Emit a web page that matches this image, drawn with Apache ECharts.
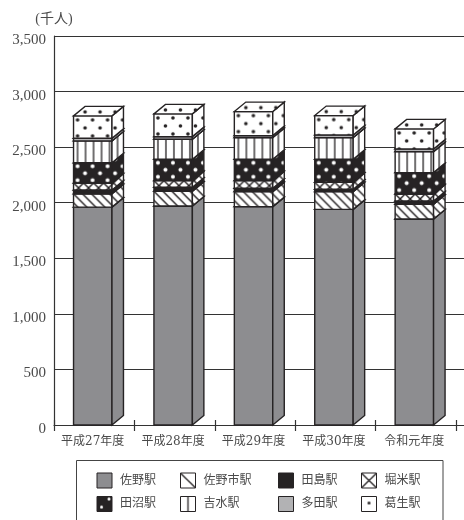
<!DOCTYPE html>
<html><head><meta charset="utf-8">
<style>html,body{margin:0;padding:0;background:#fff}#c{width:464px;height:520px}</style>
<script src="https://cdn.jsdelivr.net/npm/echarts@6/dist/echarts.min.js"></script>
</head><body><div id="c"></div>
<script>
const categories = ['平成27年度','平成28年度','平成29年度','平成30年度','令和元年度'];
const yTicks = [0,500,1000,1500,2000,2500,3000,3500];
const sano     = [1960,1971,1965,1940,1854];
const sanoshi  = [120,132,135,160,132];
const tajima   = [35,36,30,21,30];
const horigome = [63,60,69,63,63];
const tanuma   = [182,192,192,207,192];
const yoshimizu= [196,180,195,195,189];
const tada     = [24,24,18,24,24];
const kuzuu    = [201,204,216,174,180];

const INK='#262324', G1='#8d8d90', G2='#b2b2b4', TXT='#4a4a4a';
const FONT="'Liberation Serif','Noto Sans CJK JP',serif";
const FONT2="'DejaVu Serif','Noto Sans CJK JP',serif";
function tile(w,h,bg,draw){
  const c=document.createElement('canvas');c.width=w;c.height=h;
  const x=c.getContext('2d');x.fillStyle=bg;x.fillRect(0,0,w,h);draw(x,w,h);return c;
}
function line(x,a,b,c,d,lw){x.strokeStyle=INK;x.lineWidth=lw||1.4;x.beginPath();x.moveTo(a,b);x.lineTo(c,d);x.stroke();}
function dot(x,a,b,r,col){x.fillStyle=col;x.beginPath();x.arc(a,b,r,0,Math.PI*2);x.fill();}
const T={
  hatch:tile(9,9,'#fff',(x)=>{line(x,-9,0,9,18);line(x,0,0,9,9);line(x,0,-9,18,9);}),
  cross:tile(10,10,'#fff',(x)=>{line(x,0,0,10,10);line(x,10,0,0,10);line(x,-5,5,5,15);line(x,5,-5,15,5);line(x,5,-5,-5,5);line(x,15,5,5,15);}),
  tanuma:tile(15,14,INK,(x)=>{dot(x,4,3.5,2,'#fff');dot(x,11.5,10.5,2,'#fff');}),
  yoshi:tile(8,8,'#fff',(x)=>{line(x,4,0,4,8,1.3);}),
  kuzuu:tile(15,16,'#fff',(x)=>{dot(x,4,4,1.8,INK);dot(x,11.5,12,1.8,INK);})
};
const S={
  hatch:tile(15,15,'#fff',(x)=>line(x,0,0,15,15,1.3)),
  cross:tile(15,15,'#fff',(x)=>{line(x,0,0,15,15,1.3);line(x,15,0,0,15,1.3);}),
  tanuma:tile(15,15,INK,(x)=>{dot(x,4.5,10.5,1.5,'#fff');dot(x,12,2.5,1.5,'#fff');}),
  yoshi:tile(15,15,'#fff',(x)=>line(x,7.5,0,7.5,15,1.3)),
  kuzuu:tile(15,15,'#fff',(x)=>dot(x,7.5,6.5,1.5,INK))
};
const fills=(k,x,y)=>k.length>2&&T[k]?{image:T[k],repeat:'repeat',x:x,y:y}:k;
const stations=[
  {name:'佐野駅',data:sano,fill:G1,sw:G1},
  {name:'佐野市駅',data:sanoshi,fill:'hatch',sw:'hatch'},
  {name:'田島駅',data:tajima,fill:INK,sw:INK},
  {name:'堀米駅',data:horigome,fill:'cross',sw:'cross'},
  {name:'田沼駅',data:tanuma,fill:'tanuma',sw:'tanuma'},
  {name:'吉水駅',data:yoshimizu,fill:'yoshi',sw:'yoshi'},
  {name:'多田駅',data:tada,fill:G2,sw:G2},
  {name:'葛生駅',data:kuzuu,fill:'kuzuu',sw:'kuzuu'}
];
const cum=categories.map(()=>0);
const series=stations.map((st)=>{
  const rows=st.data.map((v,i)=>{const r=[i,cum[i],cum[i]+v];cum[i]+=v;return r;});
  return {
    type:'custom',name:st.name,xAxisIndex:1,yAxisIndex:1,
    encode:{x:0,y:[1,2]},data:rows,animation:false,silent:true,
    renderItem(params,api){
      const i=api.value(0),b=api.coord([i,api.value(1)]),t=api.coord([i,api.value(2)]);
      const band=api.size([1,0])[0],w=band*0.478,dx=band*0.143,dy=9.5,off=-band*0.018;
      const l=b[0]-w/2+off,r=l+w,yb=b[1],yt=t[1];
      const f=()=>fills(st.fill,l,yt);
      const st0={stroke:INK,lineWidth:1.4,lineJoin:'miter'};
      return {type:'group',children:[
        {type:'polygon',shape:{points:[[l,yb],[r,yb],[r,yt],[l,yt]]},style:Object.assign({fill:f()},st0)},
        {type:'polygon',shape:{points:[[r,yb],[r+dx,yb-dy],[r+dx,yt-dy],[r,yt]]},style:Object.assign({fill:f()},st0)},
        {type:'polygon',shape:{points:[[l,yt],[r,yt],[r+dx,yt-dy],[l+dx,yt-dy]]},style:Object.assign({fill:f()},st0)}
      ]};
    }
  };
});
function legendCol(left,items){
  return {show:true,orient:'vertical',left:left,top:472.5,padding:0,itemGap:7.5,itemWidth:15,itemHeight:15,
    selectedMode:false,icon:'rect',
    textStyle:{fontFamily:FONT,fontSize:12,color:TXT,padding:[1,0,0,3]},
    data:items.map(n=>{const st=stations.find(s=>s.name===n);
      return {name:n,icon:'rect',itemStyle:{color:S[st.sw]?{image:S[st.sw],repeat:'repeat'}:st.sw,borderColor:INK,borderWidth:1}};})};
}
const chart=echarts.init(document.getElementById('c'),null,{renderer:'canvas'});
chart.setOption({
  animation:false,backgroundColor:'#fff',
  textStyle:{fontFamily:FONT},
  graphic:[{type:'rect',z:-1,silent:true,shape:{x:76.5,y:460.5,width:366.5,height:70},style:{fill:'#fff',stroke:'#444',lineWidth:1}}],
  legend:[legendCol(96.5,['佐野駅','田沼駅']),legendCol(180,['佐野市駅','吉水駅']),legendCol(278,['田島駅','多田駅']),legendCol(361,['堀米駅','葛生駅'])],
  grid:[{left:54,top:36,right:0,height:389},{left:54,top:36,width:402,height:389}],
  xAxis:[
    {gridIndex:0,type:'value',min:0,max:1,splitLine:{show:false},axisTick:{show:false},axisLabel:{show:false},axisLine:{show:true,lineStyle:{color:'#333',width:1.2}}},
    {gridIndex:1,type:'category',data:categories,axisLine:{show:false},axisTick:{show:true,alignWithLabel:false,length:6,lineStyle:{color:'#333',width:1.2}},
      axisLabel:{interval:0,margin:11,fontFamily:FONT2,fontSize:12,color:TXT,padding:[0,3,0,0]}},
    {gridIndex:1,type:'category',data:categories,position:'bottom',axisLine:{show:false},axisTick:{show:true,inside:true,length:5,lineStyle:{color:'#333',width:1.2}},axisLabel:{show:false}}
  ],
  yAxis:[
    {gridIndex:0,type:'value',min:0,max:3500,interval:500,name:'(千人)',nameLocation:'end',nameGap:10,
      nameTextStyle:{fontFamily:FONT,fontSize:14,color:TXT,align:'center',padding:[0,0,0,0]},
      axisLine:{show:true,onZero:false,lineStyle:{color:'#333',width:1.2}},axisTick:{show:false},
      splitLine:{show:true,lineStyle:{color:'#333',width:1.2}},
      axisLabel:{margin:8,fontFamily:FONT,fontSize:15,color:TXT,verticalAlign:'top',lineHeight:8,formatter:v=>yTicks.includes(v)?v.toLocaleString('en-US'):''}},
    {gridIndex:1,type:'value',min:0,max:3500,interval:500,show:false}
  ],
  series:series
});
</script></body></html>
